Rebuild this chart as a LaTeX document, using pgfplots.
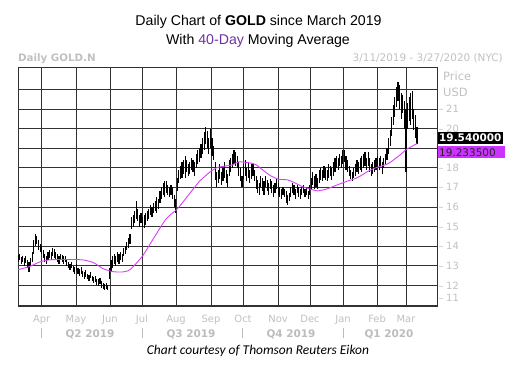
\documentclass[border=0pt]{standalone}
\usepackage{pgfplots}
\pgfplotsset{compat=1.18}
\usepackage{pgfplotstable}
\usepackage{fontspec}
\setmainfont{Liberation Sans}
\newfontfamily\dv{DejaVu Sans}
\newfontfamily\carl{Carlito}
\definecolor{lg}{RGB}{192,192,192}
\definecolor{qg}{RGB}{188,188,188}
\definecolor{ma}{RGB}{214,64,246}
\definecolor{mabox}{RGB}{204,51,255}
\definecolor{tp}{RGB}{112,48,160}
\definecolor{gridc}{RGB}{50,50,50}
\newcommand\tl[1]{\textendash\hspace{2.5bp}#1}

\pgfplotstableread{
i lo hi
0 13.2 13.55
1 13.3 13.6
2 13.1 13.45
3 13.2 13.5
4 13.0 13.4
5 13.15 13.5
6 12.9 13.3
7 12.7 13.2
8 13.0 13.4
9 13.2 13.7
10 13.6 14.3
11 14.0 14.6
12 14.1 14.5
13 13.8 14.3
14 13.7 14.1
15 13.6 14.0
16 13.4 13.8
17 13.2 13.6
18 13.1 13.5
19 13.3 13.7
20 13.4 13.8
21 13.3 13.7
22 13.5 13.9
23 13.4 13.85
24 13.3 13.7
25 13.2 13.6
26 13.1 13.5
27 13.3 13.6
28 13.2 13.55
29 13.1 13.5
30 13.2 13.5
31 13.0 13.35
32 12.9 13.2
33 12.8 13.1
34 12.9 13.2
35 12.7 13.0
36 12.6 12.95
37 12.75 13.1
38 12.6 12.9
39 12.5 12.85
40 12.6 12.95
41 12.4 12.75
42 12.3 12.7
43 12.45 12.8
44 12.3 12.6
45 12.2 12.55
46 12.35 12.7
47 12.2 12.5
48 12.1 12.45
49 12.15 12.5
50 12.0 12.3
51 11.95 12.3
52 12.05 12.35
53 11.85 12.2
54 11.8 12.1
55 11.75 12.05
56 11.8 12.1
57 11.75 12.0
58 12.3 12.9
59 12.7 13.3
60 12.9 13.5
61 13.1 13.6
62 13.0 13.5
63 13.2 13.7
64 13.1 13.6
65 13.3 13.7
66 13.2 13.6
67 13.5 13.9
68 13.6 14.0
69 13.8 14.2
70 13.9 14.4
71 14.1 14.6
72 14.9 15.5
73 15.0 15.6
74 15.2 15.8
75 15.4 16.3
76 15.3 15.9
77 15.0 15.6
78 15.2 15.7
79 15.0 15.5
80 14.9 15.6
81 15.1 15.7
82 15.3 15.8
83 15.4 15.9
84 15.6 16.1
85 15.5 16.0
86 15.7 16.2
87 15.8 16.3
88 15.7 16.5
89 15.9 16.4
90 16.2 16.8
91 16.4 17.0
92 16.6 17.2
93 16.5 17.3
94 16.7 17.3
95 16.6 17.1
96 16.5 17.0
97 16.6 17.1
98 16.4 17.0
99 16.0 16.6
100 15.7 16.4
101 16.8 17.5
102 17.2 17.9
103 17.4 18.1
104 17.5 18.3
105 17.7 18.4
106 17.5 18.6
107 17.8 18.4
108 17.6 18.2
109 17.7 18.3
110 17.9 18.5
111 17.8 18.4
112 17.6 18.3
113 18.0 18.7
114 18.2 18.9
115 18.3 19.0
116 18.5 19.2
117 18.7 19.5
118 18.9 19.8
119 19.2 20.1
120 19.0 19.9
121 18.7 19.5
122 19.0 20.0
123 18.6 19.5
124 18.4 19.1
125 17.4 18.3
126 17.0 17.8
127 17.2 17.9
128 17.4 18.2
129 17.1 17.8
130 17.3 18.0
131 17.5 18.3
132 17.2 17.9
133 17.0 17.7
134 17.6 18.4
135 17.8 18.5
136 18.0 18.7
137 18.2 18.9
138 18.1 18.8
139 18.0 18.6
140 17.6 18.3
141 17.3 18.0
142 17.0 17.6
143 17.4 18.2
144 17.6 18.4
145 17.3 18.0
146 17.5 18.3
147 17.2 17.9
148 17.4 18.2
149 17.6 18.2
150 17.3 17.9
151 16.9 17.6
152 16.7 17.4
153 16.6 17.2
154 17.0 17.6
155 16.8 17.5
156 16.6 17.3
157 17.0 17.6
158 16.8 17.4
159 16.6 17.2
160 16.9 17.4
161 16.7 17.3
162 16.5 17.1
163 16.7 17.2
164 16.9 17.4
165 16.6 17.2
166 16.5 17.0
167 16.4 16.9
168 16.6 17.0
169 16.5 16.9
170 16.2 16.8
171 16.1 16.6
172 16.3 16.7
173 16.5 17.0
174 16.7 17.2
175 16.6 17.1
176 16.4 16.9
177 16.7 17.1
178 16.5 17.0
179 16.4 16.9
180 16.6 17.0
181 16.7 17.1
182 16.5 16.9
183 16.6 17.0
184 16.4 16.8
185 16.6 17.1
186 16.9 17.5
187 17.1 17.8
188 16.9 17.6
189 17.0 17.7
190 16.9 17.5
191 17.2 17.9
192 17.4 18.0
193 17.3 17.9
194 17.5 18.1
195 17.4 18.0
196 17.3 17.9
197 17.5 18.2
198 17.6 18.1
199 17.4 18.0
200 17.6 18.3
201 17.8 18.5
202 18.0 18.6
203 17.9 18.5
204 18.1 18.7
205 18.0 18.6
206 18.2 18.9
207 18.3 18.9
208 17.9 18.6
209 17.8 18.4
210 17.6 18.1
211 17.4 17.9
212 17.3 17.8
213 17.5 18.0
214 17.6 18.2
215 17.8 18.4
216 17.7 18.3
217 17.9 18.5
218 17.8 18.6
219 18.0 18.7
220 18.1 18.8
221 17.9 18.5
222 18.1 18.8
223 17.8 18.5
224 17.6 18.2
225 17.7 18.3
226 17.8 18.4
227 17.9 18.5
228 18.0 18.6
229 17.9 18.5
230 18.1 18.6
231 17.7 18.3
232 18.0 18.5
233 18.2 18.7
234 18.4 19.0
235 18.7 19.5
236 19.1 19.9
237 19.6 20.6
238 20.2 21.2
239 20.6 21.6
240 21.1 22.1
241 21.4 22.4
242 21.0 22.2
243 20.5 21.8
244 20.8 21.7
245 20.0 21.4
246 17.8 21.0
247 20.0 21.3
248 20.4 21.6
249 20.2 21.8
250 20.5 21.9
251 19.9 21.0
252 19.5 20.7
253 19.2 20.1
}\bars

\begin{document}
\begin{tikzpicture}[x=1bp,y=1bp]
\useasboundingbox (0,0) rectangle (512,364);
\begin{axis}[
  at={(18bp,57.5bp)}, anchor=south west,
  scale only axis, width=419bp, height=239.5bp,
  xmin=0, xmax=265.7, ymin=10.92, ymax=23.14,
  xtick={15.0,36.8,58.3,78.6,100.2,122.4,142.7,164.9,185.2,206.1,227.7,246.0},
  xticklabels={Apr,May,Jun,Jul,Aug,Sep,Oct,Nov,Dec,Jan,Feb,Mar},
  ytick={11,12,13,14,15,16,17,18,19,20,21,22},
  yticklabels={,\tl{12},\tl{13},\tl{14},\tl{15},\tl{16},\tl{17},\tl{18},,\tl{20},\tl{21},},
  yticklabel pos=right,
  grid=major,
  major grid style={gridc, line width=0.8bp},
  axis line style={gridc, line width=0.9bp},
  major tick length=0pt,
  xticklabel style={font=\dv\fontsize{10}{12}\selectfont, text=lg, anchor=base, yshift=-16.2bp},
  yticklabel style={font=\dv\fontsize{10}{12}\selectfont, text=lg, anchor=west, inner xsep=1.5bp},
  /pgf/number format/assume math mode=true,
]
\addplot[draw=none, mark=none,
  error bars/.cd, y dir=both, y explicit, error mark=none,
  error bar style={draw=black, line width=1.15bp}]
  table[x=i, y expr={(\thisrow{lo}+\thisrow{hi})/2}, y error expr={(\thisrow{hi}-\thisrow{lo})/2}] {\bars};
\addplot[ma, line width=0.9bp, smooth, tension=0.4, mark=none] coordinates {
(0,12.8) (7,12.95) (14,13.2) (20,13.3) (30,13.32) (41,13.3) (48,13.15) (54,12.85) (60,12.7) (66,12.68) (70,12.75) (73,12.95) (79,13.5) (86,14.4) (94,15.4) (101,15.9) (109,16.7) (115,17.3) (122,17.8) (126,18.0) (131,18.08) (136,18.15) (140,18.3) (147,18.25) (151,18.15) (155,17.9) (160,17.6) (165,17.42) (171,17.38) (175,17.25) (180,17.05) (185,16.92) (190,16.82) (196,16.92) (200,17.05) (205,17.2) (210,17.35) (214,17.45) (218,17.62) (222,17.82) (227,18.0) (231,18.1) (235,18.22) (239,18.45) (243,18.7) (246,18.92) (250,19.1) (253,19.23)
};
\end{axis}
% titles
\node[anchor=base, inner sep=0] at (258.5,339) {\fontsize{14.2}{17}\selectfont Daily Chart of \textbf{GOLD} since March 2019};
\node[anchor=base, inner sep=0] at (258,319.5) {\fontsize{14.2}{17}\selectfont With \textcolor{tp}{40-Day} Moving Average};
\node[anchor=base west, inner sep=0, text=lg] at (18,302.5) {\dv\bfseries\fontsize{10.3}{12}\selectfont Daily GOLD.N};
\node[anchor=base east, inner sep=0, text=lg] at (503,302.5) {\dv\fontsize{10.5}{12}\selectfont 3/11/2019 - 3/27/2020 (NYC)};
\node[anchor=base west, inner sep=0, text=lg] at (443,284) {\dv\fontsize{11.5}{13}\selectfont Price};
\node[anchor=base west, inner sep=0, text=lg] at (443,268) {\dv\fontsize{11.5}{13}\selectfont USD};
\node[anchor=west, inner xsep=1.5bp, inner ysep=0, text=lg] at (437,66) {\dv\fontsize{10}{12}\selectfont\tl{11}};
% value boxes
\fill[black] (437.5,220.3) rectangle (503,232.3);
\node[anchor=base west, inner sep=0, text=white] at (439,222.4) {\dv\bfseries\fontsize{10.5}{12}\selectfont 19.540000};
\fill[mabox] (437.5,205.7) rectangle (505,218);
\node[anchor=base west, inner sep=0, text=black!85] at (439,207.8) {\dv\fontsize{10.5}{12}\selectfont 19.233500};
% quarter labels
\foreach \xx/\qq in {90/Q2 2019,191/Q3 2019,291/Q4 2019,389/Q1 2020}
  \node[anchor=base, inner sep=0, text=qg] at (\xx,26.7) {\dv\bfseries\fontsize{10.5}{12}\selectfont \qq};
\foreach \xx in {41.7,142.3,242.7,343.3}
  \draw[qg, line width=0.8bp] (\xx,26.5) -- (\xx,36);
% footer
\node[anchor=base, inner sep=0] at (258,9.5) {\carl\itshape\fontsize{13.5}{16}\selectfont Chart courtesy of Thomson Reuters Eikon};
\end{tikzpicture}
\end{document}
